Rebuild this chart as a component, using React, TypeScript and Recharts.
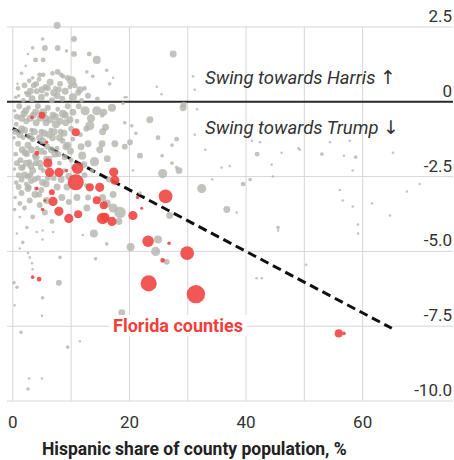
import {
  CartesianGrid,
  ReferenceLine,
  Scatter,
  ScatterChart,
  XAxis,
  YAxis,
  ZAxis,
} from "recharts"

// [hispanic share %, swing pts, population weight]
const otherCounties: [number, number, number][] = [
  [7.6, 2.55, 28], [5.1, 2.1, 7], [10.5, 2.1, 20], [3.4, 1.8, 7], [5.5, 1.8, 20], [7.7, 1.8, 20],
  [9.2, 1.7, 7], [10.5, 1.6, 20], [13.1, 1.6, 13], [14.4, 1.4, 38], [27.5, 1.6, 28], [3.9, 1.4, 13],
  [5.2, 1.4, 13], [2.6, 1.6, 3], [2.2, 1.2, 3], [16.1, 1.05, 7], [7.7, 1.0, 20], [8.6, 0.85, 13],
  [10.1, 0.7, 50], [4.6, 0.9, 13], [3.4, 0.8, 7], [12.7, 1.0, 7], [13.7, 0.85, 7], [30.9, 0.85, 3],
  [11.5, 0.4, 28], [16.6, 0.6, 7], [19.5, 0.15, 3], [31.2, 0.4, 3], [24.7, 0.5, 3], [25.5, 0.25, 3],
  [17.2, 0.8, 3], [19.2, 0.15, 3], [29.3, -0.1, 20], [31.6, -0.25, 3],
  [17, -0.2, 38], [15.4, -1.0, 28], [15.3, -1.4, 28], [17.5, -1.4, 28], [19.2, -1.5, 20], [20.1, -1.35, 20],
  [20.4, -0.8, 7], [19.2, -0.7, 7], [23.5, -0.6, 28], [24.9, -1.2, 13], [27.3, -1.45, 7], [28.1, -1.25, 13],
  [28.5, -2.3, 28], [25.7, -2.4, 50], [21.8, -1.8, 20], [25.6, -1.8, 7], [27.3, -2.05, 7], [20.6, -2.3, 3],
  [21.8, -3.05, 7], [32.4, -2.9, 50], [29.2, -0.2, 28], [15.3, -0.45, 13], [18.9, -0.05, 7], [21.1, -1.05, 7],
  [31.2, -1.1, 3], [28.1, -2.2, 7], [18.4, -3.7, 79], [17.2, -3.55, 50], [15.4, -3.2, 28], [26.9, -3.8, 28],
  [20.2, -4.85, 38], [24.9, -4.6, 38], [24.5, -5.0, 50], [26.4, -5.35, 20], [18.7, -7.05, 28], [16.1, -4.75, 7],
  [18.2, -4.0, 28],
  [41.9, -1.75, 13], [44.4, -2.1, 3], [46.1, -1.7, 3], [49, -1.55, 3], [53, -1.75, 7], [56.8, -1.8, 3],
  [58.8, -1.85, 7], [58.3, -2.3, 3], [65.2, -1.7, 3], [42.4, -1.35, 3], [41, -1.3, 3], [54.4, -1.35, 3],
  [57.8, -1.3, 3], [44.6, -2.5, 3], [40.7, -2.6, 7], [39.5, -2.75, 13], [36.7, -3.6, 28], [38.4, -3.7, 3],
  [56.1, -2.95, 3], [56.6, -3.3, 3], [58.3, -3.5, 3], [61.6, -3.4, 3], [67.6, -3.0, 3], [69.8, -2.75, 3],
  [64.7, -3.8, 3], [49.2, -1.6, 3], [35.8, -2.2, 3], [37.2, -2.15, 3], [45.5, -4.2, 7], [45.5, -4.3, 3],
  [59.2, -4.1, 3], [59.2, -4.4, 3], [41.8, -5.9, 3], [42.7, -5.9, 3], [50.3, -5.45, 3], [34.2, -2.6, 3],
  [33.0, -1.6, 3], [36.1, -1.0, 3],
  [13.9, -4.4, 38], [12.0, -4.45, 3], [8.1, -5.2, 7], [14.2, -5.25, 7], [3.3, -5.4, 3], [3.4, -5.6, 3],
  [5.1, -4.6, 3], [6.9, -4.35, 3], [5.1, -4.3, 3], [4.1, -4.35, 3], [1.7, -4.7, 7], [1.2, -4.9, 3],
  [2.6, -5.05, 3], [2.9, -5.2, 3], [0.7, -4.4, 3], [0.3, -3.6, 7], [1.2, -3.85, 3], [2.4, -4.2, 7],
  [5.5, -3.7, 20], [6.7, -4.0, 13], [3.4, -3.85, 13], [4.6, -3.45, 20], [2.9, -3.3, 20], [1.5, -3.05, 20],
  [2.6, -2.9, 28], [3.8, -3.1, 28], [5.1, -2.7, 28], [8.4, -3.2, 28], [9.3, -2.85, 28], [11.0, -3.2, 28],
  [12.7, -3.55, 28], [16.1, -3.4, 38], [17.2, -3.1, 28], [12.9, -3.2, 20],
  [0.2, -6.05, 7], [0.7, -6.2, 7], [5.1, -6.55, 7], [7.9, -6.05, 20], [1.4, -7.7, 7], [9.4, -8.2, 7],
  [2.6, -9.6, 7], [5.0, -7.15, 3], [5.0, -9.25, 3], [2.8, -9.25, 3], [11.5, -8.0, 3], [0.3, -6.8, 3],
  [1.5, 0.95, 7], [2.8, 0.7, 13], [3.6, 0.55, 20], [4.5, 0.75, 13], [5.6, 0.5, 20], [6.4, 0.65, 28],
  [7.3, 0.45, 13], [8.1, 0.6, 20], [9.0, 0.35, 28], [9.8, 0.5, 13], [11.2, 0.3, 20], [12.3, 0.45, 13],
  [0.8, 0.6, 3], [2.2, 0.3, 7], [1.0, 0.2, 7], [10.6, 0.55, 20],
  [0.5, 0.15, 7], [1.8, 0.05, 13], [2.6, 0.25, 20], [3.3, 0.1, 28], [4.1, 0.35, 20], [4.9, 0.15, 28],
  [5.8, 0.25, 13], [6.7, 0.05, 20], [7.6, 0.2, 28], [8.5, 0.1, 20], [10.3, 0.15, 38], [11.8, 0.05, 13],
  [12.9, 0.2, 20], [14.5, 0.1, 13],
  [0.3, -0.3, 7], [1.1, -0.15, 20], [1.9, -0.4, 28], [2.7, -0.2, 13], [3.5, -0.45, 28], [4.3, -0.15, 20],
  [5.2, -0.35, 38], [6.0, -0.2, 20], [6.9, -0.45, 28], [7.7, -0.25, 13], [8.6, -0.4, 38], [9.4, -0.15, 20],
  [10.3, -0.35, 28], [12.4, -0.3, 50], [14.4, -0.3, 50], [13.4, -0.55, 38], [15.6, -0.35, 28], [11.3, -0.15, 20],
  [0.6, -0.75, 13], [1.5, -0.9, 28], [2.3, -0.65, 20], [3.2, -0.95, 13], [4.0, -0.7, 28], [4.9, -1.0, 20],
  [5.7, -0.7, 28], [6.5, -0.95, 13], [7.4, -0.75, 38], [8.2, -1.0, 20], [9.1, -0.7, 28], [10.0, -0.9, 20],
  [11.0, -0.65, 13], [12.6, -0.9, 20], [13.2, -0.8, 50], [15.9, -0.85, 28], [11.6, -1.1, 13],
  [0.2, -1.2, 7], [0.9, -1.4, 20], [1.8, -1.2, 13], [2.6, -1.45, 28], [3.4, -1.25, 20], [4.2, -1.55, 13],
  [5.1, -1.3, 28], [5.9, -1.5, 20], [6.8, -1.2, 28], [7.6, -1.55, 13], [8.5, -1.3, 20], [9.4, -1.45, 28],
  [10.3, -1.25, 13], [11.7, -1.5, 28], [12.9, -1.4, 28], [14.9, -1.6, 28], [9.1, -1.5, 28],
  [0.5, -1.75, 13], [1.3, -1.95, 20], [2.1, -1.7, 28], [2.9, -2.0, 13], [3.8, -1.8, 20], [4.6, -2.05, 28],
  [5.5, -1.7, 13], [6.3, -1.9, 20], [7.2, -1.75, 28], [8.0, -2.05, 13], [8.9, -1.85, 20], [10.0, -1.95, 13],
  [11.9, -1.8, 38], [14.0, -2.0, 50], [16.2, -1.9, 28], [12.2, -2.1, 28],
  [0.3, -2.25, 7], [1.0, -2.45, 20], [1.8, -2.2, 13], [2.6, -2.5, 20], [3.4, -2.3, 28], [4.3, -2.55, 20],
  [5.2, -2.3, 13], [7.0, -2.55, 20], [8.8, -2.3, 13], [9.6, -2.5, 28], [12.3, -2.45, 20], [13.6, -2.3, 13],
  [16.5, -2.6, 20], [10.5, -2.2, 20],
  [0.6, -2.7, 13], [1.5, -2.6, 20], [2.3, -2.75, 13], [3.1, -2.65, 20], [4.0, -2.9, 13], [4.9, -2.95, 20],
  [5.7, -2.75, 28], [7.6, -2.85, 28], [12.6, -2.8, 13], [0.4, -3.2, 7], [1.2, -3.4, 13], [2.0, -3.55, 13],
  [5.8, -3.3, 28], [9.6, -3.35, 20],
  [0.9, 0.45, 13], [2.0, 0.55, 20], [3.0, 0.35, 28], [4.0, 0.6, 20], [5.0, 0.4, 28], [6.0, 0.45, 20],
  [7.0, 0.3, 28], [7.9, 0.4, 20], [9.4, 0.8, 20], [5.2, 0.9, 13], [6.8, 0.95, 13], [8.3, 0.9, 13],
  [0.7, -0.5, 20], [1.5, -0.55, 28], [2.2, -0.3, 28], [3.0, -0.55, 28], [3.9, -0.35, 28], [4.7, -0.55, 28],
  [5.6, -0.55, 28], [6.4, -0.6, 28], [7.3, -0.5, 28], [8.1, -0.65, 28], [9.0, -0.45, 28], [9.8, -0.6, 28],
  [0.4, -1.0, 20], [1.2, -1.1, 28], [2.0, -0.95, 28], [2.9, -1.15, 28], [3.7, -1.0, 28], [4.6, -1.2, 28],
  [5.4, -1.05, 28], [6.2, -1.1, 28], [7.1, -1.0, 28], [8.0, -1.2, 28], [8.8, -1.05, 28], [1.6, -1.6, 28],
  [2.4, -1.75, 20], [3.2, -1.6, 28], [4.0, -1.85, 28], [4.9, -1.65, 28], [5.7, -1.9, 20], [6.6, -1.6, 28],
  [7.8, -1.75, 20], [9.9, -1.65, 28],
  [0.7, -2.05, 20], [1.5, -2.2, 28], [2.3, -2.05, 28], [3.1, -2.15, 28], [3.9, -2.05, 20], [4.8, -2.2, 20],
  [2.0, -2.45, 28], [3.0, -2.45, 20], [3.7, -2.6, 20], [1.0, -2.85, 20], [2.7, -2.85, 20], [4.5, -3.1, 20],
  [8.3, -2.6, 28], [6.0, -2.55, 20],
]

const floridaCounties: [number, number, number][] = [
  [5.0, -0.45, 28], [3.3, -0.52, 7], [10.8, -1.02, 38], [5.8, -1.35, 7], [4.1, -1.72, 13], [6.0, -2.05, 50],
  [6.3, -2.36, 50], [7.9, -2.36, 50], [11.1, -2.22, 79], [10.8, -2.69, 154], [9.2, -2.3, 7], [13.2, -2.86, 38],
  [14.9, -2.86, 50], [17.3, -2.35, 50], [17.5, -2.62, 50], [26.2, -3.16, 113], [15.6, -3.46, 38], [15.8, -3.86, 50],
  [17.0, -4.0, 50], [20.6, -3.8, 50], [21.4, -3.2, 7], [22.1, -3.56, 5], [6.7, -3.02, 20], [6.9, -3.33, 50],
  [4.1, -2.9, 7], [14.4, -3.29, 38], [7.9, -3.66, 50], [5.1, -3.6, 7], [9.6, -3.9, 50], [11.2, -3.76, 38],
  [15.4, -3.9, 79], [23.2, -4.66, 79], [26.8, -4.73, 7], [29.9, -5.06, 113], [25.7, -5.3, 13], [23.3, -6.07, 154],
  [31.4, -6.43, 201], [55.9, -7.74, 38], [56.8, -7.74, 7], [3.4, -5.86, 7], [4.5, -5.93, 13], [5.5, -3.3, 5],
]

const trendLine = [
  { x: 0, y: -0.89 },
  { x: 65, y: -7.57 },
]

const xTicks = [0, 20, 40, 60]
const xGrid = [0, 10, 20, 30, 40, 50, 60]
const yTicks = [2.5, 0, -2.5, -5, -7.5, -10]

const toPoints = (rows: [number, number, number][]) =>
  rows.map(([share, swing, pop]) => ({ share, swing, pop }))

const FONT = "Roboto, 'Noto Sans', sans-serif"

const XTick = ({ x, y, payload }: any) => (
  <text x={x} y={y + 19} textAnchor="middle" fontSize={17} fill="#333" fontFamily={FONT}>
    {payload.value}
  </text>
)

const yLabel = (v: number) => ({ viewBox }: any) => (
  <text
    x={viewBox.x + viewBox.width - 1}
    y={viewBox.y - 5}
    textAnchor="end"
    fontSize={17}
    fill="#333"
    fontFamily={FONT}
  >
    {v === 0 ? "0" : v.toFixed(1)}
  </text>
)

const annot = {
  position: "absolute" as const,
  left: 205,
  fontSize: 18.5,
  fontStyle: "italic",
  color: "#333",
  whiteSpace: "nowrap" as const,
}

const arrow = {
  fontStyle: "normal" as const,
  fontFamily: "'DejaVu Sans', sans-serif",
  fontSize: 19,
}

export default function App() {
  return (
    <div style={{ position: "relative", width: 454, height: 460, fontFamily: FONT }}>
      <style>{"body{margin:0;background:#fff}"}</style>
      <ScatterChart width={454} height={460} margin={{ top: 21, right: 1, bottom: 29, left: 7 }}>
        <CartesianGrid vertical={false} horizontal={false} />
        {yTicks.map((v) => (
          <ReferenceLine key={"y" + v} y={v} stroke="#d6d6d6" label={{ content: yLabel(v) }} />
        ))}
        {xGrid.map((v) => (
          <ReferenceLine
            key={"x" + v}
            segment={[
              { x: v, y: -10 },
              { x: v, y: 2.5 },
            ]}
            stroke="#d6d6d6"
          />
        ))}
        <XAxis
          type="number"
          dataKey="share"
          domain={[-1, 75.5]}
          ticks={xTicks}
          tickLine={false}
          axisLine={false}
          tick={<XTick />}
          height={30}
          allowDataOverflow
        />
        <YAxis type="number" dataKey="swing" domain={[-10, 2.7]} hide allowDataOverflow />
        <ZAxis type="number" dataKey="pop" domain={[3, 205]} range={[5, 270]} />
        <Scatter
          data={toPoints(otherCounties)}
          fill="#b3b4ac"
          fillOpacity={0.8}
          isAnimationActive={false}
        />
        <Scatter
          data={toPoints(floridaCounties)}
          fill="#f04541"
          fillOpacity={0.9}
          isAnimationActive={false}
        />
        <ReferenceLine y={0} stroke="#2a2a2a" strokeWidth={2} />
        <ReferenceLine
          segment={trendLine}
          stroke="#111"
          strokeWidth={3}
          strokeDasharray="9 5"
        />
      </ScatterChart>
      <div style={{ ...annot, top: 66 }}>
        Swing towards Harris <span style={arrow}>↑</span>
      </div>
      <div style={{ ...annot, top: 116 }}>
        Swing towards Trump <span style={arrow}>↓</span>
      </div>
      <div
        style={{
          position: "absolute",
          left: 109,
          top: 315,
          padding: "0 4px",
          background: "#fff",
          fontSize: 18,
          fontWeight: 700,
          color: "#f0403c",
          whiteSpace: "nowrap",
        }}
      >
        Florida counties
      </div>
      <div
        style={{
          position: "absolute",
          left: 42,
          top: 439,
          fontSize: 17.5,
          fontWeight: 700,
          color: "#222",
          whiteSpace: "nowrap",
        }}
      >
        Hispanic share of county population, %
      </div>
    </div>
  )
}
